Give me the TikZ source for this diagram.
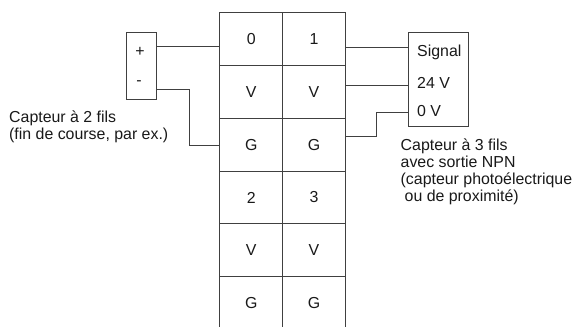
\documentclass[tikz,border=0pt]{standalone}
\usepackage{fontspec}
\setmainfont{Liberation Sans}
\usetikzlibrary{calc}
\tikzset{
	cell/.style={draw=black!75, line width=1pt, minimum width=62.8pt, minimum height=52.8pt, inner sep=0pt},
	sbox/.style={draw=black!75, line width=1pt, inner sep=0pt},
	wire/.style={draw=black!75, line width=1pt},
	lbl/.style={inner sep=0pt, anchor=base west}
}
\begin{document}
\begin{tikzpicture}[x=1pt,y=-1pt,every node/.style={font=\fontsize{15.9}{17.2}\selectfont, text=black!90}]
	\useasboundingbox (0,0) rectangle (574,327);
	% terminal block
	\node[cell] (t0) at (251.2,39.1) {0};		\node[cell] (t1) at (314,39.1) {1};
	\node[cell] (v0) at (251.2,91.9) {V};		\node[cell] (v1) at (314,91.9) {V};
	\node[cell] (g0) at (251.2,144.7) {G};		\node[cell] (g1) at (314,144.7) {G};
	\node[cell] (t2) at (251.2,197.5) {2};		\node[cell] (t3) at (314,197.5) {3};
	\node[cell] (v2) at (251.2,250.3) {V};		\node[cell] (v3) at (314,250.3) {V};
	\node[cell] (g2) at (251.2,303.1) {G};		\node[cell] (g3) at (314,303.1) {G};
	%
	% 2-wire sensor
	\node[sbox, minimum width=30pt, minimum height=67.3pt] (capA) at (141,66.3) {};
	\node (plus) at (140,52) {+};
	\node (minus) at (139,83) {-};
	\coordinate (pA) at ($(capA.north east)+(0,14.8)$);
	\coordinate (mA) at ($(capA.north east)+(0,57.3)$);
	\coordinate (kA) at ($(mA)+(33,0)$);
	\draw[wire] (pA) -- (pA -| t0.west);
	\draw[wire] (mA) -- (kA) |- ($(g0.west)+(0,1)$);
	\node[inner sep=0pt, anchor=north west, align=left] (txtA) at (9,110.2) {Capteur à 2 fils\\(fin de course, par ex.)};
	%
	% 3-wire sensor
	\node[sbox, minimum width=60pt, minimum height=94.4pt] (capB) at (438.3,79.5) {};
	\node[lbl] (sig) at (417,56) {Signal};
	\node[lbl] (vcc) at (417,88.3) {24 V};
	\node[lbl] (gnd) at (417,116.7) {0 V};
	\coordinate (sB) at ($(capB.north west)+(0,15.4)$);
	\coordinate (vB) at ($(capB.north west)+(0,53.4)$);
	\coordinate (zB) at ($(capB.north west)+(0,80.2)$);
	\coordinate (kB) at ($(zB)+(-31.6,0)$);
	\draw[wire] (t1.east |- sB) -- (sB);
	\draw[wire] (v1.east |- vB) -- (vB);
	\draw[wire] (zB) -- (kB) |- ($(g1.east)+(0,-8.7)$);
	\node[inner sep=0pt, anchor=north west, align=left] (txtB) at (400.5,138.4) {Capteur à 3 fils\\avec sortie NPN\\(capteur photoélectrique\\\hspace*{0.25em}ou de proximité)};
\end{tikzpicture}
\end{document}
